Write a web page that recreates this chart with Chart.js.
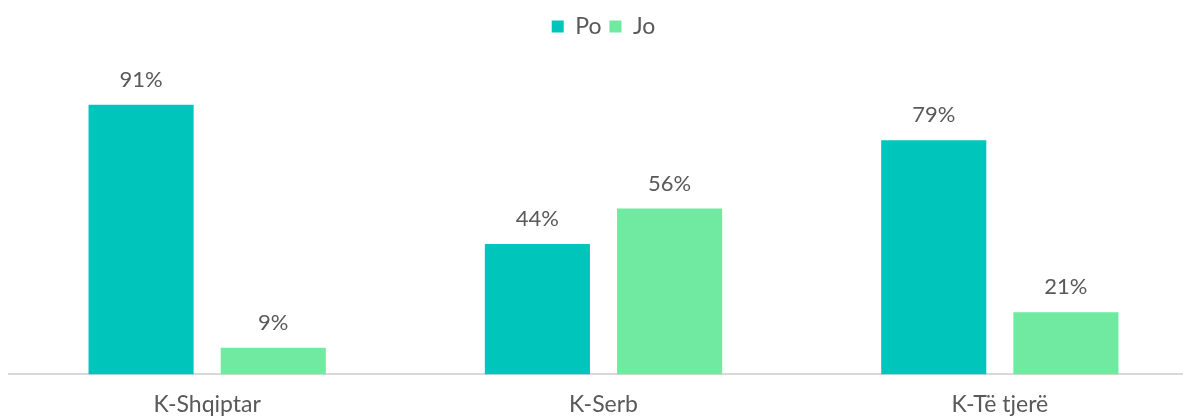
<!DOCTYPE html>
<html lang="sq">
<head>
    <meta charset="UTF-8">
    <title>Po / Jo</title>
    <script src="https://cdn.jsdelivr.net/npm/chart.js"></script>
    <style>
        html, body { margin: 0; padding: 0; overflow: hidden; background: #fff; }
        #wrap { width: 1198px; height: 434px; position: relative; }
    </style>
</head>
<body>
    <div id="wrap"><canvas id="myChart"></canvas></div>

    <script>
        // Data
        const categories = ['K-Shqiptar', 'K-Serb', 'K-Të tjerë'];
        const poValues = [91, 44, 79];
        const joValues = [9, 56, 21];

        const textColor = '#595959';
        const fontFamily = 'Lato, "Open Sans", sans-serif';

        // draws "NN%" above every bar
        const valueLabels = {
            id: 'valueLabels',
            afterDatasetsDraw(chart) {
                const ctx = chart.ctx;
                ctx.save();
                ctx.font = '22px ' + fontFamily;
                ctx.fillStyle = textColor;
                ctx.textAlign = 'center';
                ctx.textBaseline = 'bottom';
                chart.data.datasets.forEach((ds, i) => {
                    chart.getDatasetMeta(i).data.forEach((bar, j) => {
                        ctx.fillText(ds.data[j] + '%', bar.x, bar.y - 14);
                    });
                });
                ctx.restore();
            }
        };

        // extra space below the legend
        const legendMargin = {
            id: 'legendMargin',
            beforeInit(chart) {
                const fit = chart.legend.fit;
                chart.legend.fit = function () {
                    fit.bind(chart.legend)();
                    this.height += 30;
                };
            }
        };

        const config = {
            type: 'bar',
            data: {
                labels: categories,
                datasets: [{
                    label: 'Po',
                    data: poValues,
                    backgroundColor: '#00C5BA'
                }, {
                    label: 'Jo',
                    data: joValues,
                    backgroundColor: '#6FEAA0'
                }]
            },
            options: {
                responsive: true,
                maintainAspectRatio: false,
                animation: false,
                layout: { padding: { left: 9, right: 0, top: 7, bottom: 0 } },
                datasets: {
                    bar: { categoryPercentage: 0.667, barPercentage: 0.795 }
                },
                plugins: {
                    legend: {
                        position: 'top',
                        labels: {
                            boxWidth: 12,
                            boxHeight: 12,
                            color: textColor,
                            font: { size: 23, family: fontFamily },
                            padding: 8
                        }
                    },
                    tooltip: { enabled: false }
                },
                scales: {
                    x: {
                        grid: { display: false, drawTicks: false },
                        border: { color: '#d9d9d9', width: 2 },
                        ticks: { color: textColor, font: { size: 23, family: fontFamily }, padding: 16 }
                    },
                    y: {
                        min: 0,
                        max: 100,
                        display: false
                    }
                }
            },
            plugins: [valueLabels, legendMargin]
        };

        const myChart = new Chart(document.getElementById('myChart'), config);
    </script>
</body>
</html>
